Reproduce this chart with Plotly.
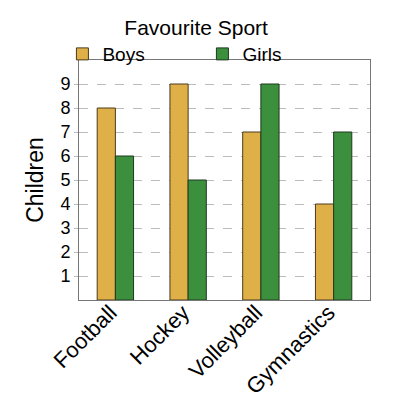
import plotly.graph_objects as go

sports = ["Football", "Hockey", "Volleyball", "Gymnastics"]
boys = [8, 9, 7, 4]
girls = [6, 5, 9, 7]
y_ticks = [1, 2, 3, 4, 5, 6, 7, 8, 9]

BOYS_COLOUR = "#DFB048"
GIRLS_COLOUR = "#3B8F3D"

fig = go.Figure()
fig.add_trace(go.Bar(
    x=sports, y=boys, name="Boys",
    marker={"color": BOYS_COLOUR, "line": {"color": "#4a3a1a", "width": 1}},
))
fig.add_trace(go.Bar(
    x=sports, y=girls, name="Girls",
    marker={"color": GIRLS_COLOUR, "line": {"color": "#1f3a1f", "width": 1}},
))

# the page body adds an 8px offset, so the figure is a bit smaller than the window
fig.update_layout(
    width=392,
    height=392,
    barmode="group",
    bargap=0.5,
    bargroupgap=0,
    plot_bgcolor="white",
    paper_bgcolor="white",
    font={"family": "Liberation Sans, Arial, sans-serif", "color": "black"},
    margin={"l": 71, "r": 30, "t": 52, "b": 100, "autoexpand": False},
    title={"text": "Favourite Sport", "x": 0.48, "xanchor": "center", "y": 0.95, "yanchor": "middle",
           "font": {"size": 21}},
    legend={"orientation": "h", "x": -0.057, "xanchor": "left", "y": 1.104, "yanchor": "top",
            "font": {"size": 19}, "entrywidth": 95, "itemwidth": 30,
            "tracegroupgap": 0, "bgcolor": "rgba(0,0,0,0)"},
)
fig.update_yaxes(
    range=[0, 10],
    tickvals=y_ticks,
    ticks="outside",
    ticklen=4,
    tickcolor="#bbbbbb",
    tickfont={"size": 18},
    showgrid=True,
    gridcolor="#bbbbbb",
    griddash="dash",
    gridwidth=1,
    zeroline=False,
    showline=True,
    linecolor="#777777",
    mirror=True,
    automargin=False,
    title={"text": "Children", "font": {"size": 23}, "standoff": 10},
)
fig.update_xaxes(
    tickangle=-45,
    tickfont={"size": 22},
    ticklabelshift=-5,
    ticklabelstandoff=-10,
    showline=True,
    linecolor="#777777",
    mirror=True,
    automargin=False,
    ticks="",
)

fig.write_html("out.html")
